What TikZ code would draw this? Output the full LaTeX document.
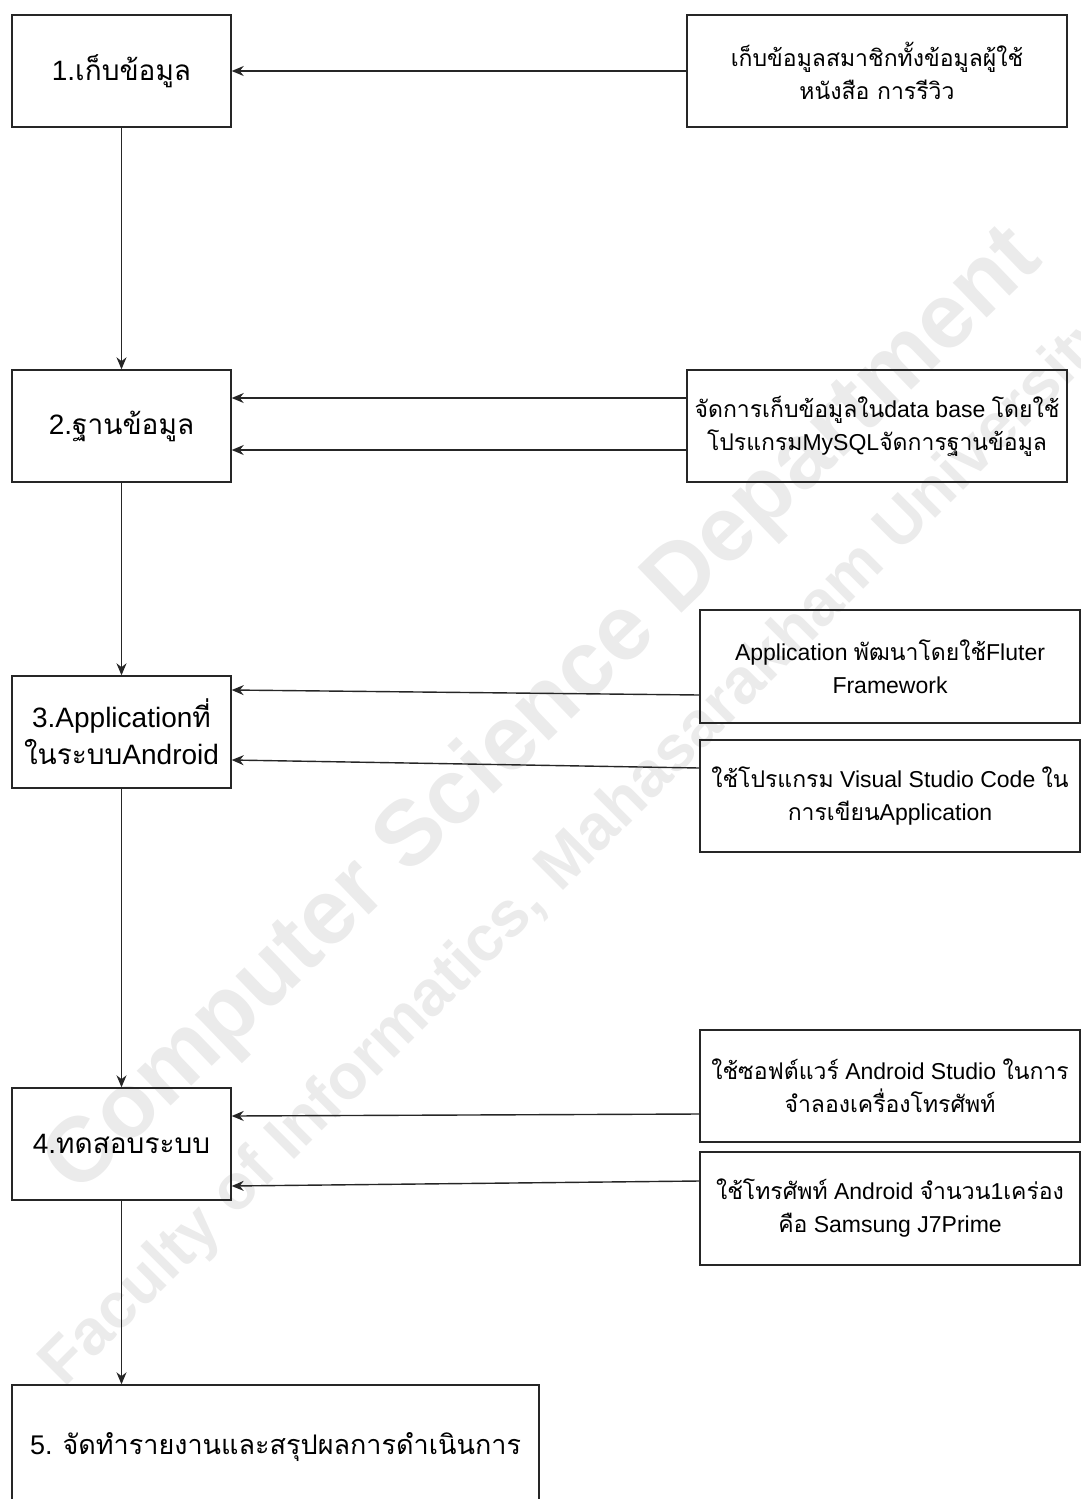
\documentclass[tikz,border=0pt]{standalone}
\usepackage{fontspec}
\setmainfont{Liberation Sans}
\newfontfamily\thaifont[Script=Thai]{Loma}
\newcommand{\tht}[1]{{\thaifont #1}}
\usetikzlibrary{arrows.meta}
\tikzset{
  lbox/.style={draw=black!85, line width=1.4pt, rectangle, minimum width=219pt, minimum height=112pt, align=center, font=\fontsize{28}{37}\selectfont, inner sep=0pt},
  rbox/.style={draw=black!85, line width=1.4pt, rectangle, minimum width=380pt, minimum height=112pt, align=center, font=\fontsize{23}{33}\selectfont, inner sep=0pt},
  arr/.style={draw=black!85, line width=1.4pt, -{Stealth[length=12pt,width=10pt]}},
  wm/.style={text=black!8, font=\bfseries, inner sep=0pt}
}
\begin{document}
\begin{tikzpicture}[x=1pt,y=-1pt]
\useasboundingbox (0,0) rectangle (1080,1499);
% watermark
\node[wm, rotate=44, font=\fontsize{92}{92}\selectfont\bfseries] (wm1) at (545,712) {Computer Science Department};
\node[wm, rotate=45, font=\fontsize{64}{64}\selectfont\bfseries] (wm2) at (580,850) {Faculty of Informatics, Mahasarakham University};
% left boxes
\node[lbox] (b1) at (121.5,71) {1.\tht{เก็บข้อมูล}};
\node[lbox] (b2) at (121.5,426) {2.\tht{ฐานข้อมูล}};
\node[lbox] (b3) at (121.5,732) {3.Application\tht{ที่}\\\tht{ในระบบ}Android};
\node[lbox] (b4) at (121.5,1144) {4.\tht{ทดสอบระบบ}};
\node[lbox, minimum width=527pt, minimum height=125pt, font=\fontsize{27}{37}\selectfont] (b5) at (275.5,1447.5) {5. \tht{จัดทำรายงานและสรุปผลการดำเนินการ}};
% right boxes
\node[rbox] (r1) at (877,71) {\tht{เก็บข้อมูลสมาชิกทั้งข้อมูลผู้ใช้}\\\tht{หนังสือ การรีวิว}};
\node[rbox] (r2) at (877,426) {\tht{จัดการเก็บข้อมูลใน}data base \tht{โดยใช้}\\\tht{โปรแกรม}MySQL\tht{จัดการฐานข้อมูล}};
\node[rbox, minimum height=113pt] (r3a) at (890,666.5) {Application \tht{พัฒนาโดยใช้}Fluter\\Framework};
\node[rbox] (r3b) at (890,796) {\tht{ใช้โปรแกรม} Visual Studio Code \tht{ใน}\\\tht{การเขียน}Application};
\node[rbox] (r4a) at (890,1086) {\tht{ใช้ซอฟต์แวร์} Android Studio \tht{ในการ}\\\tht{จำลองเครื่องโทรศัพท์}};
\node[rbox, minimum height=113pt] (r4b) at (890,1208.5) {\tht{ใช้โทรศัพท์} Android \tht{จำนวน}1\tht{เคร่อง}\\\tht{คือ} Samsung J7Prime};
% vertical flow
\draw[arr] (b1.south) -- (b2.north);
\draw[arr] (b2.south) -- (b3.north);
\draw[arr] (b3.south) -- (b4.north);
\draw[arr] (b4.south) -- (b4.south |- b5.north);
% side arrows
\draw[arr] (r1.west) -- (b1.east);
\draw[arr] ([yshift=28pt]r2.west) -- ([yshift=28pt]b2.east);
\draw[arr] ([yshift=-24pt]r2.west) -- ([yshift=-24pt]b2.east);
\draw[arr] ([yshift=-28.5pt]r3a.west) -- ([yshift=42pt]b3.east);
\draw[arr] ([yshift=28pt]r3b.west) -- ([yshift=-28pt]b3.east);
\draw[arr] ([yshift=-28pt]r4a.west) -- ([yshift=28pt]b4.east);
\draw[arr] ([yshift=27.5pt]r4b.west) -- ([yshift=-42pt]b4.east);
\end{tikzpicture}
\end{document}
